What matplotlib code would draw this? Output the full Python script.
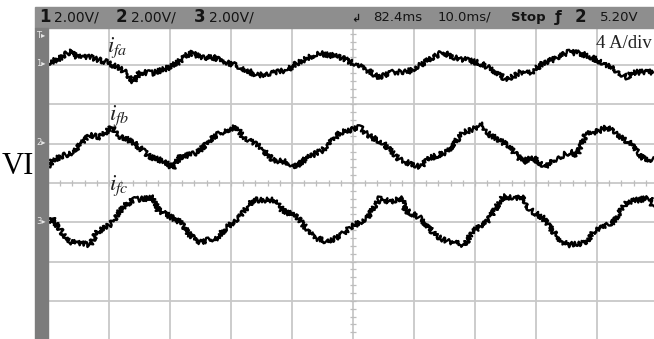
import numpy as np
import matplotlib
matplotlib.use("Agg")
import matplotlib.pyplot as plt
from matplotlib.patches import Rectangle

# time in ms (10 ms/div), current in A (4 A/div)
t_fa = [0.0, 1.97, 3.93, 4.75, 6.89, 9.67, 11.31, 12.95, 13.93, 15.08, 17.21, 19.51,
        21.15, 22.79, 23.93, 24.92, 27.05, 29.34, 31.48, 34.26, 36.89, 39.18, 40.82,
        42.46, 44.26, 46.23, 47.87, 50.0, 52.30, 54.10, 56.56, 58.85, 60.98, 63.11,
        64.75, 66.39, 68.69, 70.82, 72.95, 75.25, 77.38, 79.02, 81.15, 83.44, 85.25,
        87.21, 89.34, 91.64, 94.92, 95.90, 99.18]
i_fa = [0.0, 0.51, 1.32, 0.61, 0.61, 0.10, -0.41, -1.02, -1.93, -0.92, -1.02, -0.51,
        0.0, 0.81, 1.12, 0.51, 0.61, 0.10, -0.41, -1.22, -1.02, -0.71, 0.0,
        0.51, 1.02, 0.81, 0.61, 0.0, -0.71, -1.43, -0.92, -0.92, -0.20, 0.61,
        1.12, 0.61, 0.31, 0.0, -0.71, -1.73, -0.92, -1.02, 0.0, 0.51, 1.12,
        1.02, 0.51, -0.20, -1.43, -0.92, -0.92]

t_fb = [0.0, 0.82, 4.10, 6.89, 8.52, 10.49, 11.31, 13.93, 16.72, 18.85, 20.49, 21.64,
        24.43, 27.05, 29.34, 30.98, 31.97, 34.75, 36.89, 39.18, 40.49, 42.46, 45.08,
        47.87, 51.15, 52.30, 54.92, 57.70, 60.98, 62.62, 65.41, 68.03, 71.31, 71.97,
        75.25, 77.87, 79.34, 81.48, 83.44, 85.57, 86.72, 88.36, 90.0, 91.64, 93.28,
        95.41, 97.54, 99.18]
i_fb = [-2.44, -1.73, -0.92, 0.81, 0.61, 1.63, 0.81, 0.10, -1.43, -1.83, -2.55, -1.43,
        -1.02, 0.61, 1.32, 1.63, 0.61, -0.41, -1.73, -1.93, -2.44, -1.53, -0.71,
        1.02, 1.63, 0.81, 0.0, -1.73, -2.44, -1.53, -0.92, 1.02, 1.83, 1.02,
        -0.20, -1.93, -1.43, -2.44, -1.53, -0.92, -1.22, 1.12, 1.12, 1.63, 0.81,
        0.0, -1.53, -1.73]

t_fc = [0.0, 0.66, 1.97, 3.61, 6.89, 8.03, 10.16, 12.30, 13.93, 17.21, 18.03, 21.64,
        23.28, 24.92, 27.70, 29.34, 31.48, 33.61, 37.54, 38.36, 40.82, 43.44, 45.74,
        47.87, 49.51, 52.30, 54.43, 56.07, 58.03, 58.52, 60.98, 63.77, 65.90, 68.36,
        69.51, 71.97, 74.59, 77.87, 79.02, 81.15, 83.44, 85.08, 88.36, 89.34, 92.62,
        94.92, 98.69, 99.18]
i_fc = [0.0, 0.41, -0.81, -2.04, -2.34, -1.02, -0.31, 1.53, 2.24, 2.44, 1.22, 0.0,
        -1.32, -2.04, -1.63, -0.51, 0.51, 2.24, 2.24, 1.22, 0.51, -1.53, -2.04,
        -1.43, -0.61, 0.41, 2.44, 2.04, 2.44, 1.22, 0.41, -1.53, -2.04, -2.34,
        -1.02, 0.0, 2.55, 2.44, 1.22, 0.41, -1.53, -2.34, -2.14, -1.02, 0.0,
        2.04, 2.44, 1.53]

# channel ground positions on screen (divisions)
offsets = [3.05, 1.02, -0.99]
amps_per_div = 4.0

W, H = 654, 339
fig = plt.figure(figsize=(W / 100, H / 100), dpi=100)

ax = fig.add_axes([48 / W, (H - 340.2) / H, 610 / W, 314.4 / H])
ax.set_xlim(0, 100)
ax.set_ylim(-4, 4)
ax.axis("off")

grid_c = "#c8c8c8"
for x in np.arange(10, 100, 10):
    ax.axvline(x, color=grid_c, lw=1.3, zorder=1)
for y in np.arange(-3, 4, 1):
    ax.axhline(y, color=grid_c, lw=1.3, zorder=1)
# small ticks on the centre lines
tx = np.arange(2, 100, 2)
ax.plot(tx, np.zeros_like(tx), ls="none", marker="|", ms=5, mew=0.9, color="#bdbdbd", zorder=1)
ty = np.arange(-4, 4.01, 0.2)
ax.plot(np.full_like(ty, 50), ty, ls="none", marker="_", ms=5, mew=0.9, color="#bdbdbd", zorder=1)

for t, cur, off in zip([t_fa, t_fb, t_fc], [i_fa, i_fb, i_fc], offsets):
    lev = off + np.array(cur) / amps_per_div
    ln, = ax.plot(t, lev, color="black", lw=1.7, zorder=3)
    ln.set_sketch_params(scale=2.6, length=2.0, randomness=3)

# labels
lab_kw = dict(fontsize=16.5, color="#222222", zorder=5)
plt.rcParams["mathtext.fontset"] = "stix"
fig.text(107 / W, (H - 52) / H, r"$i_{fa}$", **lab_kw)
fig.text(109 / W, (H - 120) / H, r"$i_{fb}$", **lab_kw)
fig.text(109 / W, (H - 190) / H, r"$i_{fc}$", **lab_kw)

fig.text(596 / W, (H - 48) / H, "4 A/div", family="Liberation Serif", fontsize=13.5,
         color="#222222", va="baseline")
fig.text(2 / W, (H - 174) / H, "VI", family="Liberation Serif", fontsize=22,
         color="black", va="baseline")

# header bar and left strip
fig.patches.append(Rectangle((35 / W, (H - 28) / H), (W - 35) / W, 21 / H,
                             transform=fig.transFigure, color="#8e8e8e", zorder=10))
fig.patches.append(Rectangle((35 / W, 0), 13 / W, (H - 28) / H,
                             transform=fig.transFigure, color="#7c7c7c", zorder=10))

hy = (H - 17.5) / H
hk = dict(va="center", color="#141414", zorder=11)
for x, s in [(39, "1"), (116, "2"), (194, "3")]:
    fig.text(x / W, hy, s, fontsize=12, fontweight="bold", **hk)
for x in [54, 131, 209]:
    fig.text(x / W, hy, "2.00V/", fontsize=10, **hk)
fig.text(351 / W, hy - 0.005, "\u21b2", fontsize=8, fontweight="bold", **hk)
fig.text(373 / W, hy, "82.4ms", fontsize=9.5, **hk)
fig.text(438 / W, hy, "10.0ms/", fontsize=9.5, **hk)
fig.text(511 / W, hy, "Stop", fontsize=9.5, fontweight="bold", **hk)
fig.text(555 / W, hy, "\u0192", fontsize=11, fontweight="bold", **hk)
fig.text(575 / W, hy, "2", fontsize=12, fontweight="bold", **hk)
fig.text(600 / W, hy, "5.20V", fontsize=9.5, **hk)

# channel markers on the left strip
mk = dict(fontsize=6, color="#e8e8e8", va="center", zorder=11)
fig.text(36 / W, (H - 36) / H, "T\u25b8", **mk)
for y, s in [(63, "1"), (143, "2"), (222, "3")]:
    fig.text(36 / W, (H - y) / H, s + "\u25b8", **mk)

fig.savefig("out.png", dpi=100)
